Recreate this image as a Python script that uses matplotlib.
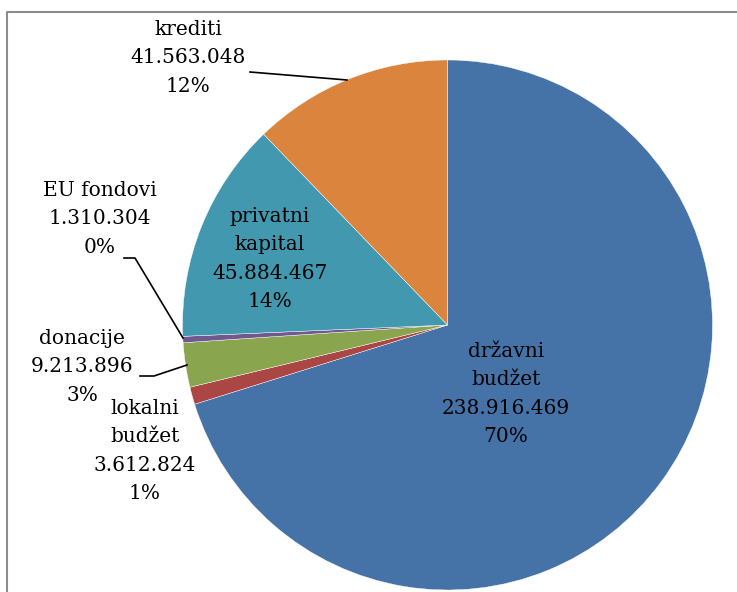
import matplotlib
matplotlib.use('Agg')
from matplotlib import pyplot as plt
from matplotlib.lines import Line2D

names = ['državni\nbudžet', 'lokalni\nbudžet', 'donacije', 'EU fondovi', 'privatni\nkapital', 'krediti']
values = [238916469, 3612824, 9213896, 1310304, 45884467, 41563048]
pct_labels = ['70%', '1%', '3%', '0%', '14%', '12%']
colors = ['#4572A7', '#AA4643', '#89A54E', '#71588F', '#4198AF', '#DB843D']

W, H = 737, 592
fig = plt.figure(figsize=(W / 100, H / 100), dpi=100)
ax = fig.add_axes([0, 0, 1, 1])

cx, cy, r = 447.5, H - 325, 265
ax.pie(values, colors=colors, startangle=90, counterclock=False,
       center=(cx, cy), radius=r, frame=True,
       wedgeprops=dict(linewidth=0.3, edgecolor='white'))
ax.set_xlim(0, W)
ax.set_ylim(0, H)
ax.set_aspect('equal')
ax.axis('off')

# label positions in pixels from top-left (x center, top of text block)
pos = [(506, 342), (145, 399), (82, 329), (100, 181), (270, 207), (188, 20)]
for name, v, p, (x, y) in zip(names, values, pct_labels, pos):
    num = f"{v:,}".replace(',', '.')
    txt = name + '\n' + num + '\n' + p
    ax.text(x, H - y, txt, ha='center', va='top', fontsize=14.5,
            family='DejaVu Serif', linespacing=1.62)

# leader lines
def leader(pts):
    xs = [q[0] for q in pts]
    ys = [H - q[1] for q in pts]
    ax.add_line(Line2D(xs, ys, color='black', lw=1.2))

leader([(250, 72), (347, 80)])
leader([(124, 258), (135, 258), (183, 338)])
leader([(140, 376), (154, 376), (187, 365)])

# frame (cropped on right and bottom)
ax.add_line(Line2D([7, 7, W + 5], [-5, H - 12, H - 12], color='#8c8c8c', lw=1.5))

fig.savefig('out.png', dpi=100)
